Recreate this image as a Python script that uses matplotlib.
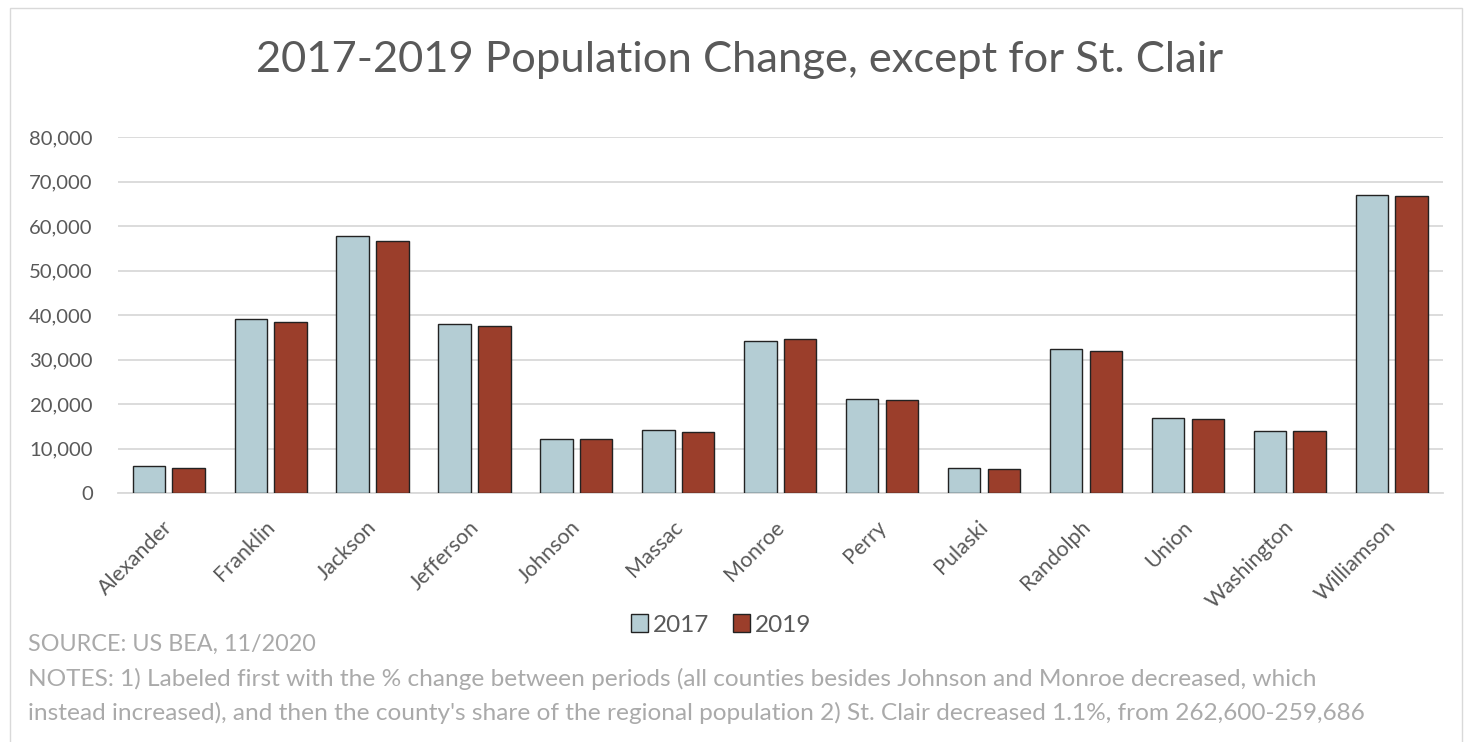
import matplotlib.pyplot as plt
from matplotlib.patches import Rectangle
from matplotlib.ticker import FuncFormatter
from matplotlib.transforms import ScaledTranslation
import numpy as np

counties = ['Alexander', 'Franklin', 'Jackson', 'Jefferson', 'Johnson', 'Massac', 'Monroe',
            'Perry', 'Pulaski', 'Randolph', 'Union', 'Washington', 'Williamson']
pop2017 = [6200, 39100, 57800, 38000, 12250, 14300, 34200, 21250, 5700, 32450, 16900, 14050, 67000]
pop2019 = [5700, 38550, 56700, 37650, 12300, 13700, 34750, 20900, 5400, 31950, 16650, 13950, 66750]
series_labels = ['2017', '2019']

title = '2017-2019 Population Change, except for St. Clair'
source = 'SOURCE: US BEA, 11/2020'
notes = ["NOTES: 1) Labeled first with the % change between periods (all counties besides Johnson and Monroe decreased, which",
         "instead increased), and then the county's share of the regional population 2) St. Clair decreased 1.1%, from 262,600-259,686"]

plt.rcParams['font.family'] = ['Lato', 'DejaVu Sans']

fig = plt.figure(figsize=(14.66, 7.42), dpi=100)
W, H = 1466, 742

# light outer border like the spreadsheet chart frame
fig.patches.append(Rectangle((10 / W, -0.01), (1452) / W, 1 - 8 / H + 0.01, transform=fig.transFigure,
                             fill=False, edgecolor='#d9d9d9', linewidth=1))

ax = fig.add_axes([117.7 / W, 1 - 493.3 / H, (1442.7 - 117.7) / W, (493.3 - 137) / H])

x = np.arange(len(counties))
w = 0.318
off = 0.195
ax.bar(x - off, pop2017, w, color='#b4cdd4', edgecolor='#222222', linewidth=1, label=series_labels[0], zorder=3)
ax.bar(x + off, pop2019, w, color='#9b3e2b', edgecolor='#222222', linewidth=1, label=series_labels[1], zorder=3)

ax.set_xlim(-0.5, len(counties) - 0.5)
ax.set_ylim(0, 80000)
ax.set_yticks(np.arange(0, 80001, 10000))
ax.yaxis.set_major_formatter(FuncFormatter(lambda v, p: f'{int(v):,}'))
ax.grid(axis='y', color='#d9d9d9', linewidth=1.3, zorder=0)
for s in ['top', 'right', 'left']:
    ax.spines[s].set_visible(False)
ax.spines['bottom'].set_color('#d9d9d9')
ax.spines['bottom'].set_linewidth(1.3)
ax.tick_params(axis='y', length=0, labelsize=14.6, colors='#595959', pad=18)
ax.set_xticks(x)
ax.set_xticklabels(counties, rotation=45, ha='right', rotation_mode='anchor')
ax.tick_params(axis='x', length=0, labelsize=15.5, colors='#595959', pad=17)
shift = ScaledTranslation(-6 / 100, 0, fig.dpi_scale_trans)
for lbl in ax.get_xticklabels():
    lbl.set_transform(lbl.get_transform() + shift)

fig.text(740 / W, 1 - 60 / H, title, ha='center', va='center', fontsize=31.3, color='#595959')

fig.legend(loc='center', bbox_to_anchor=(721 / W, 1 - 625 / H), ncol=2, frameon=False,
           fontsize=17.5, handlelength=0.7, handleheight=0.7, handletextpad=0.2, columnspacing=1.0,
           labelcolor='#595959')

fig.text(28 / W, 1 - 644 / H, source, ha='left', va='center', fontsize=16.8, color='#aaaaaa')
fig.text(28 / W, 1 - 679 / H, notes[0], ha='left', va='center', fontsize=17.6, color='#aaaaaa')
fig.text(28 / W, 1 - 713 / H, notes[1], ha='left', va='center', fontsize=17.6, color='#aaaaaa')

fig.savefig('out.png', dpi=100, facecolor='white')
